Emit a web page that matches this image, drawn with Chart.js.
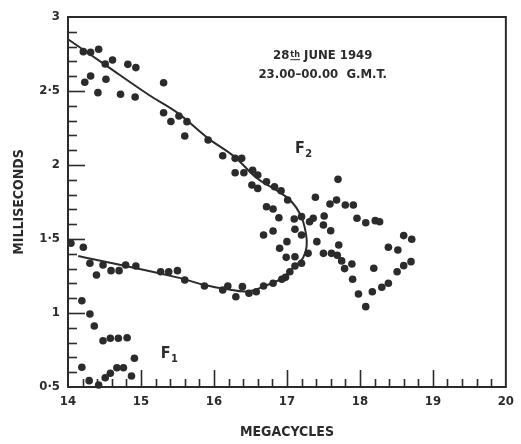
<!DOCTYPE html>
<html>
<head>
<meta charset="utf-8">
<script src="https://cdn.jsdelivr.net/npm/chart.js@4/dist/chart.umd.min.js"></script>
<style>
  html, body { margin: 0; padding: 0; background: #fff; }
  canvas { display: block; }
</style>
</head>
<body>
<canvas id="ionogram" width="521" height="444"></canvas>
<script>
// F2-layer echoes: frequency (Mc/s) and equivalent delay (ms)
const f2Mc = [
  14.21, 14.31, 14.42, 14.51, 14.61, 14.82, 14.93, 14.23, 14.31, 14.52, 14.41, 14.72, 14.92,
  15.31, 15.31, 15.41, 15.52, 15.63, 15.60, 15.92, 16.12, 16.29, 16.38, 16.29, 16.41, 16.53,
  16.60, 16.52, 16.60, 16.72, 16.83, 16.92, 16.72, 16.81, 16.89, 17.01, 17.10, 17.20, 16.68,
  16.81, 17.11, 17.20, 17.00, 16.90, 16.99, 17.11, 17.29, 17.20, 17.11, 17.04, 16.98, 16.93,
  16.81, 16.68, 16.58, 16.48, 16.39, 16.30, 16.19, 16.12, 15.87, 15.60, 15.38, 15.50, 15.27,
  14.04, 14.21, 14.30, 14.39, 14.48, 14.59, 14.70, 14.79, 14.93,
  17.70, 17.39, 17.59, 17.68, 17.80, 17.91, 17.51, 17.36, 17.31, 17.50, 17.60, 17.41, 17.50,
  17.61, 17.71, 17.69, 17.75, 17.79, 17.96, 18.08, 18.21, 18.27, 18.60, 18.71, 18.39, 18.52,
  17.89, 18.19, 17.90, 17.98, 18.08, 18.17, 18.30, 18.39, 18.51, 18.60, 18.70
];
const f2Ms = [
  2.766, 2.761, 2.782, 2.682, 2.709, 2.680, 2.658, 2.559, 2.601, 2.579, 2.489, 2.478, 2.459,
  2.556, 2.353, 2.294, 2.331, 2.293, 2.196, 2.169, 2.063, 2.045, 2.045, 1.948, 1.948, 1.965,
  1.932, 1.865, 1.842, 1.887, 1.853, 1.826, 1.718, 1.703, 1.644, 1.764, 1.635, 1.651, 1.527,
  1.554, 1.566, 1.527, 1.482, 1.437, 1.376, 1.380, 1.403, 1.336, 1.318, 1.279, 1.241, 1.228,
  1.201, 1.182, 1.144, 1.133, 1.178, 1.110, 1.182, 1.155, 1.182, 1.223, 1.279, 1.286, 1.279,
  1.471, 1.444, 1.336, 1.257, 1.324, 1.286, 1.286, 1.324, 1.318,
  1.903, 1.782, 1.736, 1.764, 1.730, 1.730, 1.655, 1.640, 1.617, 1.595, 1.556, 1.482, 1.403,
  1.403, 1.459, 1.390, 1.352, 1.300, 1.640, 1.610, 1.624, 1.617, 1.523, 1.498, 1.444, 1.426,
  1.331, 1.302, 1.228, 1.128, 1.043, 1.144, 1.174, 1.201, 1.279, 1.320, 1.347
];

// F1-layer echoes
const f1Mc = [14.19, 14.30, 14.36, 14.48, 14.58, 14.69, 14.81, 14.19, 14.29, 14.42, 14.51, 14.58, 14.67, 14.76, 14.87, 14.91];
const f1Ms = [1.083, 0.993, 0.912, 0.813, 0.829, 0.829, 0.833, 0.633, 0.543, 0.514, 0.563, 0.593, 0.630, 0.630, 0.574, 0.694];

// Fitted F2 trace, following the upper branch round the nose and back along the lower branch
const traceMc = [14.00, 14.50, 15.11, 15.51, 15.92, 16.28, 16.59, 16.88, 17.05, 17.19, 17.26, 17.27, 17.22, 17.10, 16.93, 16.71, 16.46, 16.19, 15.87, 15.51, 14.14];
const traceMs = [2.850, 2.680, 2.473, 2.349, 2.180, 2.056, 1.910, 1.822, 1.760, 1.660, 1.538, 1.450, 1.372, 1.312, 1.234, 1.185, 1.146, 1.160, 1.189, 1.239, 1.385];

// Axis ticks
const xTickValues = [14, 15, 16, 17, 18, 19, 20];
const yTickValues = [0.5, 1, 1.5, 2, 2.5, 3];
const yTickLabels = ['0·5', '1', '1·5', '2', '2·5', '3'];

const INK = '#2b2b2b';
const FONT = '"DejaVu Sans Condensed", "DejaVu Sans", sans-serif';

const pts = (xs, ys) => xs.map((x, i) => ({ x, y: ys[i] }));

// Inward major/minor ticks, frame, date block and layer labels
const decorations = {
  id: 'decorations',
  afterDraw(chart) {
    const { ctx, chartArea: a, scales: { x, y } } = chart;
    ctx.save();
    ctx.strokeStyle = INK;
    ctx.lineCap = 'butt';

    // frame
    ctx.lineWidth = 2;
    ctx.strokeRect(a.left, a.top, a.right - a.left, a.bottom - a.top);

    // x ticks every 0.2 Mc/s, pointing up into the plot
    ctx.lineWidth = 1.6;
    for (let i = 1; i < 30; i++) {
      const v = 14 + i * 0.2;
      const px = Math.round(x.getPixelForValue(v)) + 0.5;
      const len = i % 5 === 0 ? 17 : 8;
      ctx.beginPath();
      ctx.moveTo(px, a.bottom);
      ctx.lineTo(px, a.bottom - len);
      ctx.stroke();
    }
    // y ticks every 0.1 ms, pointing right into the plot
    for (let i = 1; i < 25; i++) {
      const v = 0.5 + i * 0.1;
      const py = Math.round(y.getPixelForValue(v)) + 0.5;
      const len = i % 5 === 0 ? 17 : 9;
      ctx.beginPath();
      ctx.moveTo(a.left, py);
      ctx.lineTo(a.left + len, py);
      ctx.stroke();
    }

    ctx.fillStyle = INK;
    ctx.textBaseline = 'alphabetic';

    // date / time block
    const cx = x.getPixelForValue(17.49);
    const y1 = y.getPixelForValue(2.715);
    const y2 = y.getPixelForValue(2.588);
    const big = 'bold 13px ' + FONT, small = 'bold 9px ' + FONT;
    ctx.font = big;
    const wA = ctx.measureText('28').width;
    const wC = ctx.measureText(' JUNE 1949').width;
    ctx.font = small;
    const wB = ctx.measureText('th').width + 1;
    const sx = cx - (wA + wB + wC) / 2;
    ctx.textAlign = 'left';
    ctx.font = big;
    ctx.fillText('28', sx, y1);
    ctx.font = small;
    ctx.fillText('th', sx + wA + 1, y1 - 2);
    ctx.lineWidth = 1;
    ctx.beginPath();
    ctx.moveTo(sx + wA + 1, y1 + 0.5);
    ctx.lineTo(sx + wA + wB, y1 + 0.5);
    ctx.stroke();
    ctx.font = big;
    ctx.fillText(' JUNE 1949', sx + wA + wB, y1);
    ctx.textAlign = 'center';
    ctx.fillText('23.00\u201300.00  G.M.T.', cx, y2);

    // layer labels
    ctx.textAlign = 'left';
    const label = (txt, sub, vx, vy) => {
      const px = x.getPixelForValue(vx), py = y.getPixelForValue(vy);
      ctx.font = 'bold 16px ' + FONT;
      ctx.fillText(txt, px, py);
      const w = ctx.measureText(txt).width;
      ctx.font = 'bold 11px ' + FONT;
      ctx.fillText(sub, px + w + 0.5, py + 4);
    };
    label('F', '2', 17.11, 2.08);
    label('F', '1', 15.27, 0.695);

    ctx.restore();
  }
};

new Chart(document.getElementById('ionogram'), {
  type: 'scatter',
  data: {
    datasets: [
      {
        label: 'F2 trace',
        data: pts(traceMc, traceMs),
        showLine: true,
        tension: 0.4,
        borderColor: INK,
        borderWidth: 2,
        pointRadius: 0,
        fill: false,
        clip: false
      },
      {
        label: 'F2',
        data: pts(f2Mc, f2Ms),
        pointRadius: 3.8,
        pointBackgroundColor: INK,
        pointBorderWidth: 0,
        clip: false
      },
      {
        label: 'F1',
        data: pts(f1Mc, f1Ms),
        pointRadius: 3.8,
        pointBackgroundColor: INK,
        pointBorderWidth: 0,
        clip: false
      }
    ]
  },
  options: {
    responsive: false,
    animation: false,
    events: [],
    layout: { padding: { top: 17, right: 9, left: 0, bottom: 0 } },
    plugins: { legend: { display: false }, tooltip: { enabled: false } },
    scales: {
      x: {
        type: 'linear',
        min: 14,
        max: 20,
        afterBuildTicks(s) { s.ticks = xTickValues.map(v => ({ value: v })); },
        afterFit(s) { s.height = 57; },
        grid: { display: false, drawTicks: false },
        border: { display: false },
        ticks: { color: INK, font: { family: FONT, size: 13, weight: 'bold' }, padding: 7, maxRotation: 0, callback: v => String(v) },
        title: { display: true, text: 'MEGACYCLES', color: INK, font: { family: FONT, size: 14, weight: 'bold' }, padding: { top: 0, bottom: 3 } }
      },
      y: {
        type: 'linear',
        min: 0.5,
        max: 3,
        afterBuildTicks(s) { s.ticks = yTickValues.map(v => ({ value: v })); },
        afterFit(s) { s.width = 68; },
        grid: { display: false, drawTicks: false },
        border: { display: false },
        ticks: {
          color: INK,
          font: { family: FONT, size: 13, weight: 'bold' },
          padding: 8,
          callback: v => yTickLabels[yTickValues.indexOf(v)]
        },
        title: { display: true, text: 'MILLISECONDS', color: INK, font: { family: FONT, size: 14, weight: 'bold' }, padding: { top: 11, bottom: 0 } }
      }
    }
  },
  plugins: [decorations]
});
</script>
</body>
</html>
